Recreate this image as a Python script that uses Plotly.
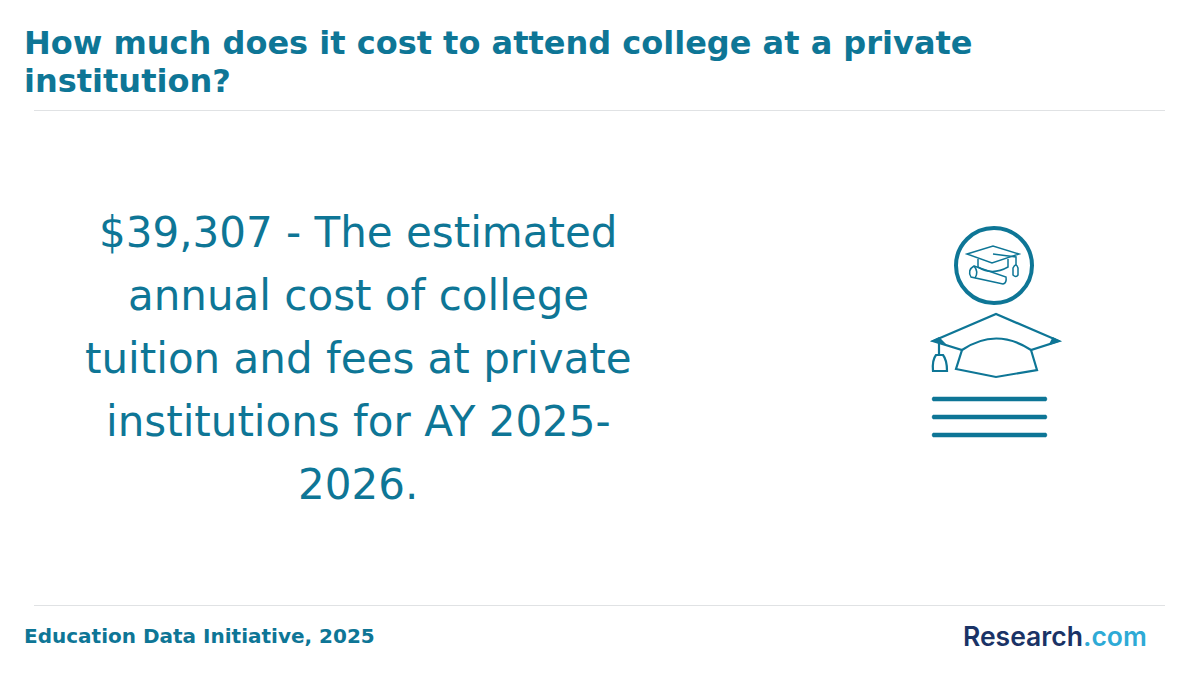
import plotly.graph_objects as go

title_lines = ["How much does it cost to attend college at a private", "institution?"]
body_lines = [
    "$39,307 - The estimated",
    "annual cost of college",
    "tuition and fees at private",
    "institutions for AY 2025-",
    "2026.",
]
source = "Education Data Initiative, 2025"

teal = "#0e7696"
navy = "#1a3366"
sky = "#2eaad6"
rule = "#e0e2e4"
sans = "DejaVu Sans"

fig = go.Figure()

# page is laid out in pixels
fig.update_layout(
    width=1200,
    height=680,
    margin=dict(l=0, r=0, t=0, b=0),
    paper_bgcolor="white",
    plot_bgcolor="white",
    showlegend=False,
    xaxis=dict(range=[0, 1200], visible=False, fixedrange=True),
    yaxis=dict(range=[680, 0], visible=False, fixedrange=True),
)


def add_text(text, x, y, size, anchor="left", bold=False, color=teal, family=sans, weight=None):
    fig.add_annotation(
        x=x, y=y, xref="x", yref="y", text=text, showarrow=False,
        xanchor=anchor, yanchor="middle", align=anchor,
        font=dict(family=family, size=size, color=color, weight=weight or (700 if bold else 400)),
    )


for i, line in enumerate(title_lines):
    add_text(line, 22, 43 + i * 38, 32, bold=True)

for i, line in enumerate(body_lines):
    add_text(line, 358, 232 + i * 63, 42, anchor="center")

add_text(source, 22, 636, 20, bold=True)
add_text(
    f'<span style="color:{navy}">Research</span><span style="color:{sky}">.com</span>',
    1055, 636, 26.5, anchor="center", family="Inter", weight=600,
)

# header and footer rules
for y in [110.5, 605.5]:
    fig.add_shape(type="line", x0=34, x1=1165, y0=y, y1=y, line=dict(color=rule, width=1))


def add_path(path, width=2.2, fill="rgba(0,0,0,0)"):
    fig.add_shape(type="path", path=path, line=dict(color=teal, width=width), fillcolor=fill)


# badge with small cap and diploma
fig.add_shape(type="circle", x0=956, x1=1032, y0=228, y1=303, line=dict(color=teal, width=4))
add_path("M967,254 L993,246 L1019,254 L992,263 Z", 1.5)
add_path("M978,259 L978,267 Q992,276 1008,267 L1008,259", 1.5)
add_path("M993,254 L1016,257 L1016,265", 1.5)
add_path("M1013,268 Q1016,262 1018,268 L1018,275 Q1016,278 1013,275 Z", 1.5)
add_path("M974,266 L1006,277 Q1007,283 1003,284 L971,277 Q967,270 974,266 Z", 1.5)
add_path("M974,266 Q979,272 975,278", 1.5)

# large cap
add_path("M933,341 L996,314 L1059,341 L1031,350 Q996,327 962,350 Z")
add_path("M962,350 L956,369 L996,377 L1037,370 L1031,350")
add_path("M933,341 L939,338 L944,343 Z", 1.5, teal)
add_path("M1059,341 L1053,338 L1050,344 Z", 1.5, teal)
add_path("M939,341 L939,355")
add_path("M936,355 L943,355 Q947,360 947,371 L933,371 Q932,360 936,355 Z")

# text lines under the cap, round ended
for y in [399, 417, 435]:
    add_path(f"M933,{y - 2} L1046,{y - 2} Q1048,{y} 1046,{y + 2} L933,{y + 2} Q931,{y} 933,{y - 2} Z", 0.5, teal)

# the page body keeps its default margin otherwise
fig.write_html(
    "out.html",
    config=dict(displayModeBar=False),
    post_script="document.body.style.margin='0';",
)
